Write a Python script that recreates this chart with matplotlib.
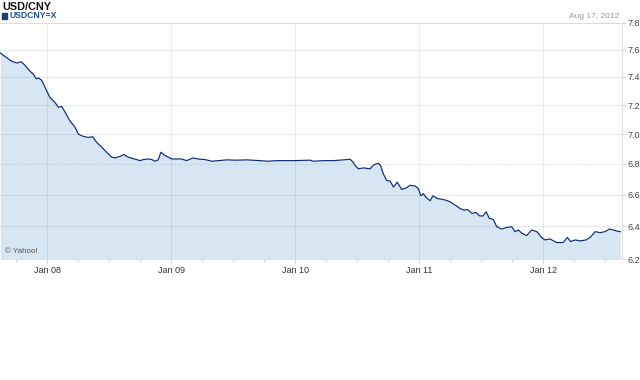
import pandas as pd
import matplotlib
matplotlib.use("Agg")
import matplotlib.pyplot as plt
import matplotlib.dates as mdates
from matplotlib.ticker import FixedLocator, FormatStrFormatter, NullFormatter

plt.rcParams["font.family"] = ["Liberation Sans", "DejaVu Sans"]

# USD/CNY
dates = [
    "2007-08-16", "2007-09-04", "2007-09-19", "2007-10-04", "2007-10-16", "2007-10-26",
    "2007-11-07", "2007-11-22", "2007-11-30", "2007-12-06", "2007-12-16", "2007-12-26",
    "2008-01-09", "2008-01-24", "2008-02-03", "2008-02-13", "2008-02-23", "2008-03-08",
    "2008-03-23", "2008-04-02", "2008-04-17", "2008-05-01", "2008-05-14", "2008-05-26",
    "2008-06-10", "2008-06-24", "2008-07-09", "2008-07-19", "2008-08-03", "2008-08-14",
    "2008-08-27", "2008-10-01", "2008-10-10", "2008-10-25", "2008-11-04", "2008-11-14",
    "2008-11-23", "2008-12-01", "2008-12-10", "2008-12-23", "2009-01-02", "2009-01-31",
    "2009-02-15", "2009-03-05", "2009-03-21", "2009-04-10", "2009-04-30", "2009-05-19",
    "2009-06-13", "2009-07-12", "2009-08-11", "2009-09-19", "2009-10-13", "2009-11-07",
    "2009-12-26", "2010-02-13", "2010-02-23", "2010-03-24", "2010-04-23", "2010-05-22",
    "2010-06-11", "2010-06-19", "2010-06-26", "2010-07-06", "2010-07-20", "2010-08-09",
    "2010-08-19", "2010-09-02", "2010-09-09", "2010-09-17", "2010-09-27", "2010-10-07",
    "2010-10-17", "2010-10-28", "2010-11-10", "2010-11-23", "2010-12-05", "2010-12-20",
    "2010-12-29", "2011-01-06", "2011-01-13", "2011-01-21", "2011-02-02", "2011-02-10",
    "2011-02-23", "2011-03-08", "2011-03-21", "2011-04-02", "2011-04-17", "2011-05-01",
    "2011-05-13", "2011-05-23", "2011-06-05", "2011-06-17", "2011-06-27", "2011-07-07",
    "2011-07-17", "2011-07-26", "2011-08-07", "2011-08-17", "2011-09-01", "2011-09-13",
    "2011-09-30", "2011-10-10", "2011-10-20", "2011-10-30", "2011-11-13", "2011-11-28",
    "2011-12-13", "2011-12-27", "2012-01-06", "2012-01-21", "2012-02-09", "2012-02-29",
    "2012-03-12", "2012-03-22", "2012-04-04", "2012-04-19", "2012-05-06", "2012-05-18",
    "2012-06-02", "2012-06-17", "2012-07-01", "2012-07-14", "2012-07-26", "2012-08-05",
    "2012-08-15",
]
rate = [
    7.574, 7.539, 7.513, 7.501, 7.510, 7.489,
    7.453, 7.417, 7.386, 7.393, 7.376, 7.324,
    7.254, 7.219, 7.185, 7.191, 7.150, 7.090,
    7.047, 7.000, 6.984, 6.978, 6.982, 6.944,
    6.911, 6.878, 6.845, 6.840, 6.851, 6.862,
    6.845, 6.822, 6.829, 6.833, 6.829, 6.818,
    6.827, 6.878, 6.860, 6.845, 6.833, 6.833,
    6.822, 6.840, 6.833, 6.829, 6.818, 6.822,
    6.827, 6.825, 6.827, 6.822, 6.818, 6.822,
    6.822, 6.825, 6.818, 6.822, 6.822, 6.827,
    6.831, 6.815, 6.789, 6.768, 6.774, 6.768,
    6.793, 6.805, 6.789, 6.735, 6.691, 6.688,
    6.649, 6.681, 6.634, 6.643, 6.660, 6.656,
    6.639, 6.593, 6.607, 6.582, 6.561, 6.593,
    6.575, 6.571, 6.564, 6.554, 6.533, 6.512,
    6.501, 6.506, 6.481, 6.487, 6.466, 6.464,
    6.491, 6.450, 6.443, 6.398, 6.383, 6.392,
    6.398, 6.367, 6.377, 6.357, 6.343, 6.377,
    6.367, 6.331, 6.316, 6.322, 6.300, 6.300,
    6.331, 6.306, 6.316, 6.310, 6.316, 6.331,
    6.367, 6.361, 6.367, 6.383, 6.377, 6.371,
    6.367,
]
y_ticks = [6.2, 6.4, 6.6, 6.8, 7.0, 7.2, 7.4, 7.6, 7.8]

x = pd.to_datetime(dates)

fig = plt.figure(figsize=(6.4, 3.8), dpi=100)
ax = fig.add_axes([0.0, 1 - 259 / 380, 622 / 640, (259 - 22.8) / 380])

ax.set_yscale("log")
ax.set_ylim(6.2, 7.8)
ax.set_xlim(pd.Timestamp("2007-08-15"), pd.Timestamp("2012-08-20"))

ax.fill_between(x, rate, 6.0, color="#d6e6f2", lw=0, zorder=1)
ax.plot(x, rate, color="#0d2a78", lw=0.85, zorder=4)

# grid lines drawn by hand so they sit over the fill
grid_col = (0.45, 0.52, 0.6, 0.16)
for v in y_ticks[1:-1]:
    ax.axhline(v, color=grid_col, lw=0.8, ls=(0, (2, 1)) if v == 6.8 else "-", zorder=2)
for yr in range(2008, 2013):
    ax.axvline(pd.Timestamp(f"{yr}-01-01"), color=grid_col, lw=0.8, zorder=2)

ax.yaxis.tick_right()
ax.yaxis.set_major_locator(FixedLocator(y_ticks))
ax.yaxis.set_major_formatter(FormatStrFormatter("%.1f"))
ax.yaxis.set_minor_formatter(NullFormatter())
ax.yaxis.set_minor_locator(FixedLocator([]))
ax.tick_params(axis="y", length=3, width=0.6, color="#cccccc", labelsize=6.5,
               labelcolor="#444444", pad=1)

ax.xaxis.set_major_locator(mdates.YearLocator())
ax.xaxis.set_major_formatter(mdates.DateFormatter("Jan %y"))
ax.xaxis.set_minor_locator(mdates.MonthLocator(bymonth=[4, 7, 10]))
ax.tick_params(axis="x", which="major", length=3, width=0.6, color="#cccccc",
               labelsize=6.5, labelcolor="#333333", pad=2)
ax.tick_params(axis="x", which="minor", length=2, width=0.6, color="#cccccc")

for side in ["left", "bottom"]:
    ax.spines[side].set_visible(False)
ax.spines["top"].set_color("#dcdcdc")
ax.spines["right"].set_color("#e2e2e2")
ax.spines["top"].set_linewidth(0.8)
ax.spines["right"].set_linewidth(0.8)

fig.text(5 / 640, 1 - 252 / 380, "© Yahoo!", fontsize=5.8, color="#555555", va="center")

# header texts
fig.text(2 / 640, 1 - 7 / 380, "USD/CNY", fontsize=7.8, fontweight="bold",
         color="#111111", va="center", ha="left")
fig.patches.append(plt.Rectangle((2 / 640, 1 - 19 / 380), 5 / 640, 6 / 380,
                                 transform=fig.transFigure, color="#1b3f7d"))
fig.text(10 / 640, 1 - 16 / 380, "USDCNY=X", fontsize=6.2, fontweight="bold",
         color="#1e4f9a", va="center", ha="left")
fig.text(619 / 640, 1 - 16 / 380, "Aug 17, 2012", fontsize=6, color="#999999",
         va="center", ha="right")

fig.savefig("out.png", dpi=100)
